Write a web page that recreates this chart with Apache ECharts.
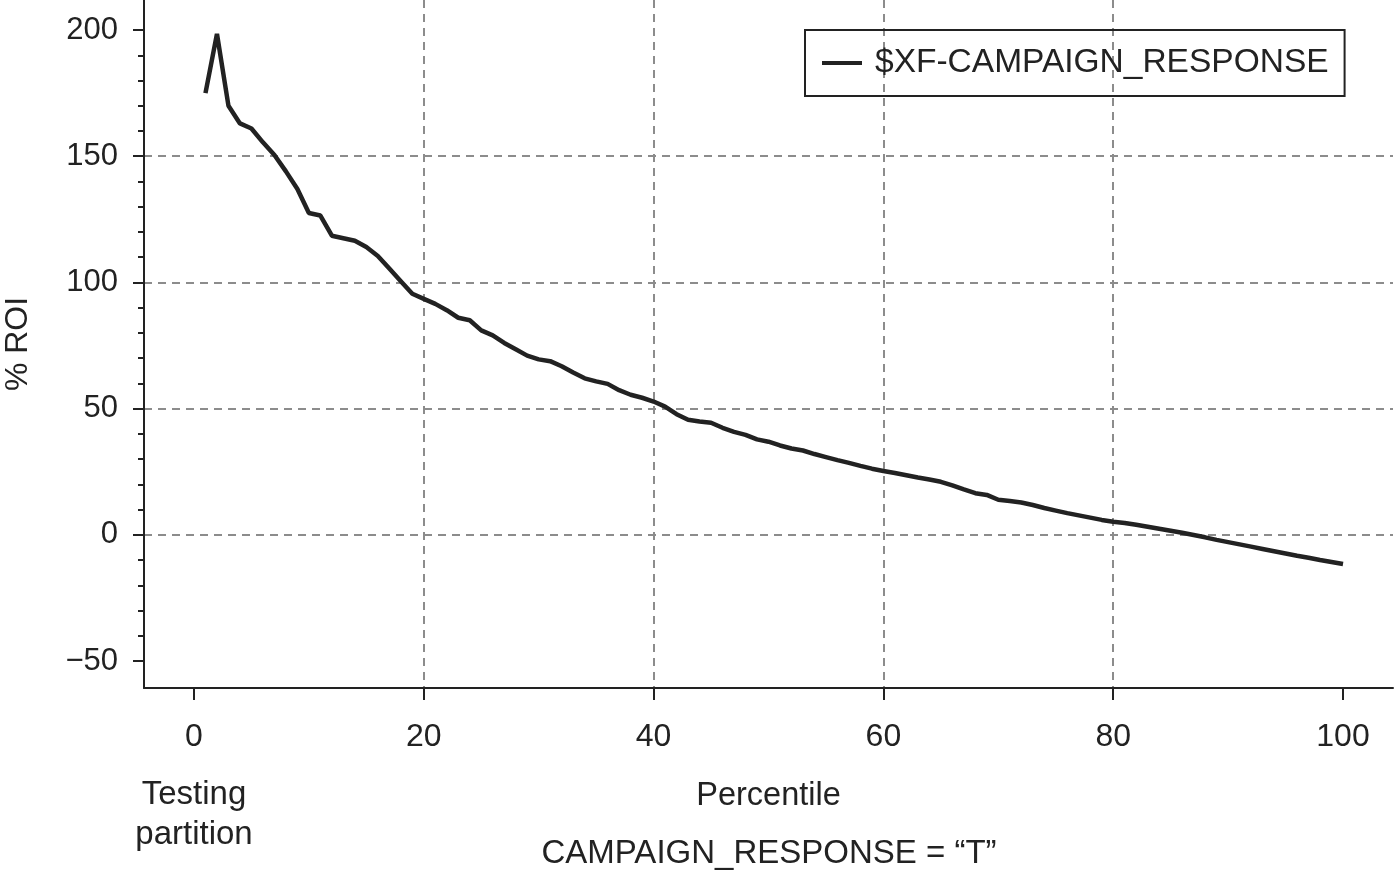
<!DOCTYPE html>
<html>
<head>
<meta charset="utf-8">
<script src="https://cdn.jsdelivr.net/npm/echarts@6/dist/echarts.min.js"></script>
<style>
html,body{margin:0;padding:0;background:#fff;}
#chart{width:1396px;height:871px;}
</style>
</head>
<body>
<div id="chart"></div>
<script>
const percentiles = [];
for (let i = 1; i <= 100; i++) percentiles.push(i);
const roiValues = [
  175, 198.5, 170, 163, 161, 155.5, 150.5, 144, 137, 127.5,
  126.5, 118.5, 117.5, 116.5, 114, 110.5, 105.5, 100.5, 95.5, 93.5,
  91.5, 89, 86, 85, 81, 79, 76, 73.5, 71, 69.5,
  68.8, 66.8, 64.3, 62, 60.8, 59.8, 57.3, 55.5, 54.3, 52.8,
  50.8, 47.8, 45.6, 44.9, 44.4, 42.4, 40.8, 39.6, 37.8, 36.9,
  35.4, 34.2, 33.4, 32, 30.8, 29.6, 28.5, 27.3, 26.2, 25.3,
  24.5, 23.6, 22.7, 21.9, 21, 19.6, 18, 16.5, 15.8, 13.9,
  13.4, 12.8, 11.8, 10.6, 9.6, 8.6, 7.7, 6.8, 5.9, 5.2,
  4.7, 4, 3.2, 2.4, 1.6, 0.8, -0.1, -1, -2, -2.9,
  -3.8, -4.7, -5.6, -6.5, -7.4, -8.3, -9.1, -10, -10.8, -11.6
];
const xTicks = [0, 20, 40, 60, 80, 100];
const yTicks = [-50, 0, 50, 100, 150, 200];
const yMinorTicks = [-40, -30, -20, -10, 10, 20, 30, 40, 60, 70, 80, 90, 110, 120, 130, 140, 160, 170, 180, 190];
const seriesName = '$XF-CAMPAIGN_RESPONSE';

const FONT = 'Liberation Sans, Arial, Helvetica, sans-serif';
const INK = '#222';
const chart = echarts.init(document.getElementById('chart'), null, {renderer: 'canvas'});
const gridLine = {show: true, lineStyle: {color: '#8c8c8c', width: 2, type: [8, 6]}, showMinLine: false, showMaxLine: false};

chart.setOption({
  animation: false,
  backgroundColor: '#fff',
  grid: {left: 144, right: 3, top: 0, bottom: 183, containLabel: false, outerBoundsMode: 'none'},
  legend: {
    data: [seriesName],
    left: 805, top: 30,
    padding: [16, 16, 16, 17],
    icon: 'rect',
    itemWidth: 40, itemHeight: 4,
    borderColor: INK, borderWidth: 2,
    textStyle: {fontFamily: FONT, fontSize: 33.5, color: INK, lineHeight: 33, padding: [0, 0, 0, 8]}
  },
  xAxis: {
    type: 'value', min: -4.35, max: 104.35,
    name: 'Percentile', nameLocation: 'middle', nameGap: 92,
    nameTextStyle: {fontFamily: FONT, fontSize: 32.5, color: INK},
    axisLine: {show: true, onZero: false, lineStyle: {color: INK, width: 2}},
    axisTick: {show: true, customValues: xTicks, length: 12, lineStyle: {color: INK, width: 2}},
    axisLabel: {customValues: xTicks, margin: 33, fontFamily: FONT, fontSize: 32, color: INK},
    splitLine: gridLine
  },
  yAxis: [{
    type: 'value', min: -60.7, max: 211.9, position: 'left',
    name: '% ROI', nameLocation: 'middle', nameGap: 110, nameRotate: 90,
    nameTextStyle: {fontFamily: FONT, fontSize: 32, color: INK},
    axisLine: {show: true, onZero: false, lineStyle: {color: INK, width: 2}},
    axisTick: {show: true, customValues: yTicks, length: 11, lineStyle: {color: INK, width: 2}},
    axisLabel: {customValues: yTicks, margin: 26, fontFamily: FONT, fontSize: 31, color: INK,
      formatter: v => v < 0 ? '\u2212' + Math.abs(v) : String(v)},
    splitLine: gridLine
  }, {
    type: 'value', min: -60.7, max: 211.9, position: 'left', offset: 0,
    axisLine: {show: false, onZero: false},
    axisTick: {show: true, customValues: yMinorTicks, length: 6, lineStyle: {color: INK, width: 2}},
    axisLabel: {show: false},
    splitLine: {show: false}
  }],
  graphic: [
    {type: 'text', x: 194, y: 775, style: {text: 'Testing\npartition', fontFamily: FONT, fontSize: 33, fill: INK, align: 'center', verticalAlign: 'top', lineHeight: 40}},
    {type: 'text', x: 769, y: 854, style: {text: 'CAMPAIGN_RESPONSE = \u201cT\u201d', fontFamily: FONT, fontSize: 33, fill: INK, align: 'center', verticalAlign: 'middle'}}
  ],
  series: [{
    name: seriesName,
    type: 'line',
    xAxisIndex: 0, yAxisIndex: 0,
    data: percentiles.map((p, i) => [p, roiValues[i]]),
    symbol: 'none',
    smooth: false,
    lineStyle: {color: INK, width: 4.5},
    itemStyle: {color: INK}
  }]
});
</script>
</body>
</html>
